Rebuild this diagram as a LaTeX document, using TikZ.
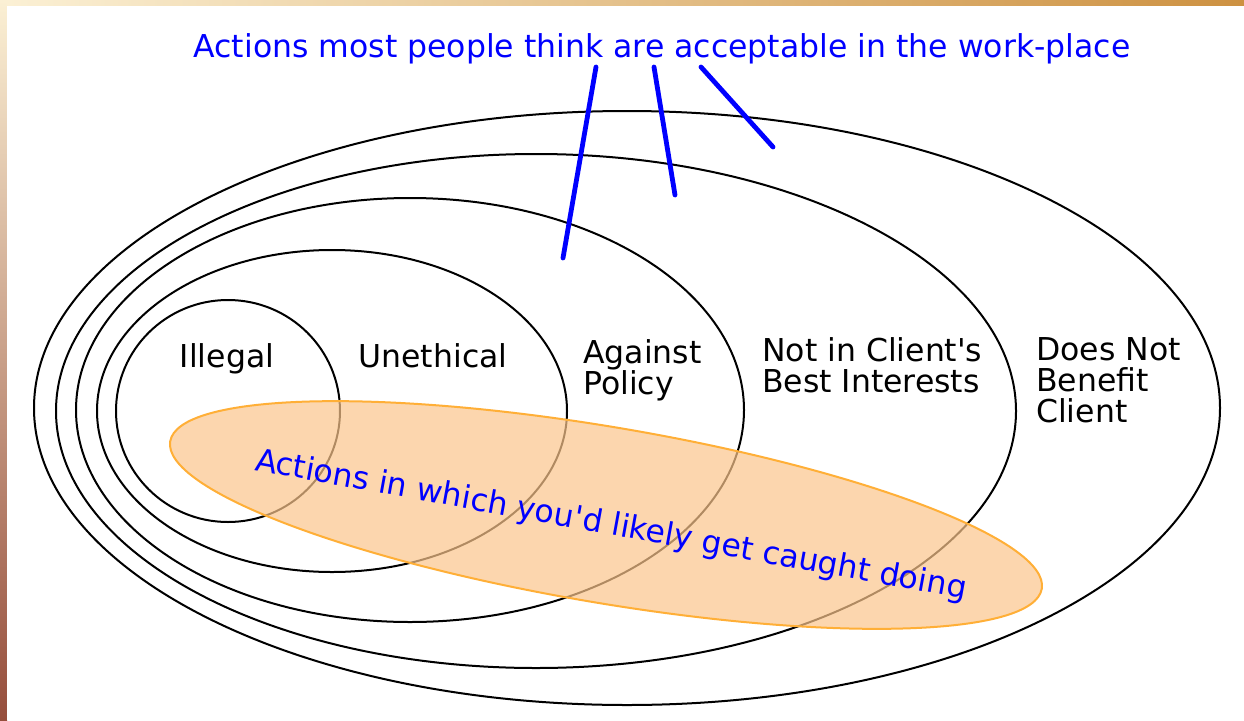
\documentclass[tikz,border=0pt]{standalone}
\usepackage{fontspec}
\setmainfont{DejaVu Sans}[Ligatures=TeXOff]
\definecolor{peach}{RGB}{252,198,140}
\definecolor{tangerine}{RGB}{255,175,55}
\definecolor{cream}{RGB}{251,240,212}
\definecolor{bark}{RGB}{150,78,60}
\definecolor{ochre}{RGB}{205,145,65}
\tikzset{
  zone/.style={draw=black, line width=2pt},
  zonelabel/.style={font=\fontsize{31.5}{31}\selectfont, inner sep=0pt, align=left},
  pointer/.style={draw=blue, line width=4.8pt, line cap=round},
}

\begin{document}
\begin{tikzpicture}[x=1pt, y=-1pt]
    \useasboundingbox (0,0) rectangle (1244,720);
    % Slide border
    \fill[cream] (0,0) rectangle (1244,720);
    \shade[top color=cream, middle color=ochre!80, bottom color=bark] (0,0) rectangle (7,720);
    \shade[left color=cream, middle color=cream!70!ochre, right color=ochre] (7,0) rectangle (1244,6);
    \fill[white] (7,6) rectangle (1244,720);

    % Nested regions
    \draw[zone] (627,408) ellipse (593 and 297); % Does Not Benefit Client
    \draw[zone] (536,411) ellipse (480 and 257); % Not in Client's Best Interests
    \draw[zone] (410,410) ellipse (334 and 212); % Against Policy
    \draw[zone] (332,411) ellipse (235 and 161); % Unethical
    \draw[zone] (228,411) ellipse (112 and 111); % Illegal

    % Getting caught
    \draw[tangerine, line width=2pt, fill=peach, fill opacity=0.7, shift={(606,515)}, rotate=-9.6] (0,0) ellipse (442 and 88);

    % Labels
    \node[zonelabel, anchor=base] (illegal) at (227,367) {Illegal};
    \node[zonelabel, anchor=base] (unethical) at (433,367) {Unethical};
    \node[zonelabel, anchor=north west] (policy) at (583,339) {Against\\Policy};
    \node[zonelabel, anchor=north west] (interests) at (762,337) {Not in Client's\\Best Interests};
    \node[zonelabel, anchor=north west] (benefit) at (1036,337) {Does Not\\Benefit\\Client};
    \node[zonelabel, text=blue, rotate=-10.3] (caught) at (611,526) {Actions in which you'd likely get caught doing};

    % Title and pointers
    \node[zonelabel, text=blue, anchor=base] (title) at (662,57) {Actions most people think are acceptable in the work-place};
    \coordinate (top1) at (596,67);
    \coordinate (top2) at (654,67);
    \coordinate (top3) at (701,67);
    \coordinate (end1) at (563,258);
    \coordinate (end2) at (675,195);
    \coordinate (end3) at (773,147);
    \draw[pointer] (top1) -- (end1);
    \draw[pointer] (top2) -- (end2);
    \draw[pointer] (top3) -- (end3);
\end{tikzpicture}
\end{document}
